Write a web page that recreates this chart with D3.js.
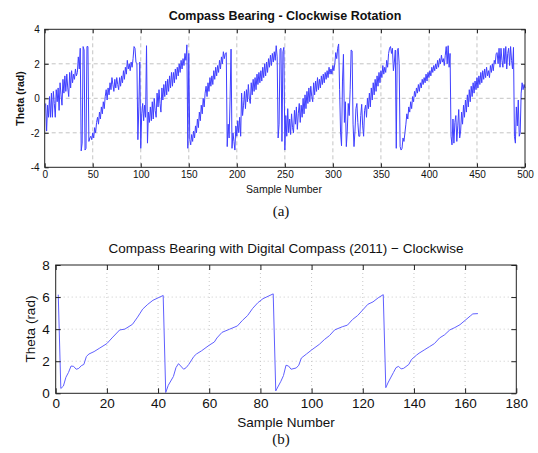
<!DOCTYPE html>
<html>
<head>
<meta charset="utf-8">
<script src="https://cdn.jsdelivr.net/npm/d3@7"></script>
<style>
  html, body { margin: 0; padding: 0; background: #fff; }
  svg { display: block; font-family: "Liberation Sans", Arial, Helvetica, sans-serif; }
</style>
</head>
<body>
<svg id="chart" width="538" height="453"></svg>
<script>
// ---- Panel (a): compass bearing, one value per sample (samples 1..500) ----
const thetaA = [
  // 1-37
  -0.3,-1.9,-0.4,-1.1,0.1,-1.1,0.3,-1.1,0.4,-0.3,
  -1.1,0.5,-0.2,0.6,-0.7,0.9,0.2,-0.4,1.1,0.3,
  1.3,0.4,1.4,0.6,0.1,1.5,0.6,1.6,0.9,1.4,
  1.1,1.7,1.3,1.5,2.4,1.7,2.9,
  // 38-47
  -3.05,-2.6,3.0,2.8,-3.0,-2.9,3.0,3.0,-2.5,-2.3,
  // 48-92
  -2.2,-2.4,-2.0,-2.3,-1.7,-2.0,-1.4,-1.1,-1.5,-0.8,
  -1.2,-0.5,-0.9,-0.2,-0.6,0.1,0.5,-0.1,0.6,0.2,
  0.9,0.5,1.2,0.8,0.4,1.1,0.6,1.2,0.8,0.5,
  1.2,0.7,1.3,0.9,1.6,1.1,1.8,1.4,2.2,1.7,
  2.0,1.6,2.1,1.8,2.3,
  // 93-112
  3.0,2.9,2.1,2.0,-2.4,-0.5,2.1,-2.9,-0.9,-0.3,
  -1.3,-0.4,-1.1,3.05,-2.6,-0.8,-1.4,-0.5,-1.3,-0.2,
  // 113-147
  -1.2,0.0,-0.7,-1.1,0.3,-0.5,0.5,-0.3,-0.8,0.6,
  -0.1,0.8,0.1,1.0,0.2,1.1,0.4,1.3,0.6,1.5,
  0.7,1.5,0.9,1.7,1.1,1.8,1.3,2.0,1.5,2.2,
  1.7,2.3,1.9,2.6,2.2,
  // 148-155
  3.1,-2.9,2.6,-2.4,-2.7,-2.1,-2.5,-1.9,
  // 156-188
  -2.3,-1.6,-2.0,-1.2,-1.7,-0.8,-1.3,-0.4,-0.9,0.0,
  -0.5,0.3,0.7,0.1,0.9,0.4,1.2,0.7,1.3,0.8,
  1.6,1.1,1.8,1.3,1.9,1.5,2.2,1.7,2.4,2.0,
  2.7,2.3,2.6,
  // 189-206
  2.65,-2.8,-1.5,-2.3,0.0,2.85,-2.9,-2.0,-2.5,-3.0,
  -1.6,-2.2,-1.3,-2.0,-1.1,-2.2,0.3,-1.0,
  // 207-240
  -0.4,0.4,-0.6,0.5,-0.2,0.8,0.0,-0.3,0.9,0.2,
  1.1,0.4,1.2,0.5,1.4,0.8,1.5,0.9,1.6,1.0,
  1.8,1.2,2.0,1.3,2.1,1.5,2.3,1.8,2.5,1.9,
  2.6,2.1,2.7,2.2,
  // 241-255
  3.05,2.4,-2.3,-1.5,2.85,2.9,-2.5,2.7,2.95,-3.0,
  -1.0,-2.2,-0.6,-2.0,-1.2,
  // 256-301
  -2.1,-0.9,-1.7,-2.0,-0.7,-1.5,-0.5,-1.8,-0.9,-0.3,
  -1.4,-0.4,-1.1,0.0,-0.9,0.2,-0.6,0.4,-0.3,0.6,
  -0.2,0.7,0.1,-0.2,0.9,0.2,1.0,0.4,1.2,0.5,
  1.1,0.6,1.3,0.8,1.4,0.9,1.5,1.1,1.6,1.2,
  1.8,1.4,1.7,1.4,1.9,1.6,
  // 302-334
  2.0,2.65,2.3,2.9,3.15,0.5,-2.0,-2.75,1.0,2.55,
  -1.4,-0.2,-2.8,-1.9,-0.3,-1.0,0.5,2.8,2.75,-1.5,
  -2.8,-1.9,-0.6,-0.3,-1.4,-2.2,-2.2,-1.0,-0.35,-1.6,
  -2.2,-0.7,-0.4,
  // 335-358
  -1.1,0.0,-0.6,0.3,-0.5,0.6,-0.1,0.9,0.2,1.1,
  0.4,1.3,0.7,1.5,0.9,1.6,1.2,1.9,1.4,1.8,
  1.5,2.2,1.8,2.6,
  // 359-376
  2.9,3.0,2.6,2.9,1.6,2.1,2.8,-2.9,2.75,2.9,
  2.0,-2.8,-3.0,-2.9,-2.3,-2.5,-2.0,-1.5,
  // 377-417
  -0.9,-1.2,-0.5,-0.8,-0.2,-0.6,0.1,-0.2,0.4,0.1,
  0.6,0.3,0.8,0.4,0.9,0.6,1.1,0.8,1.2,0.9,
  1.4,1.0,1.5,1.2,1.6,1.3,1.8,1.5,1.9,1.6,
  2.0,1.7,2.2,1.8,2.3,2.0,2.5,2.1,2.3,1.9,
  2.5,
  // 418-433
  3.0,2.0,3.05,1.8,2.6,-2.2,-2.7,-1.2,-2.6,-1.4,
  -1.0,-2.5,-1.6,-0.65,-2.3,-1.9,
  // 434-470
  -0.8,-1.5,-0.4,-1.1,-0.1,-0.8,0.2,-0.5,0.5,-0.2,
  0.7,0.1,0.9,0.3,1.0,0.5,1.2,0.6,1.3,0.8,
  1.5,0.9,1.6,1.1,1.7,1.2,1.8,1.3,1.6,1.2,
  1.9,1.5,2.0,1.6,2.2,2.0,2.6,
  // 471-488
  2.65,2.0,2.9,1.8,2.9,2.2,1.8,2.9,2.0,3.0,
  1.7,2.6,2.9,1.9,3.0,2.2,1.7,2.95,
  // 489-500
  -2.2,-2.6,-0.5,-1.6,-0.1,-2.2,-2.0,0.3,0.9,0.5,0.8,0.6
];
const sampleA = thetaA.map((_, i) => i + 1);
const xTicksA = [0, 50, 100, 150, 200, 250, 300, 350, 400, 450, 500];
const yTicksA = [-4, -2, 0, 2, 4];

// ---- Panel (b): digital compass bearing ----
const sampleB = [1,2,3,4,5,6,7,8,9,10,11,12,13,15,17,20,22,25,27,30,32,33,34,36,38,40,42,
  43,44,46,47,48,50,51,52,54,55,57,60,62,63,65,68,71,73,75,77,79,81,83,85,
  86,88,89,90,91,92,94,95,96,98,100,103,105,107,109,112,114,116,118,120,122,124,126,128,
  129,130,132,133,134,135,136,138,139,141,142,144,146,148,150,152,154,156,158,160,162,163,165];
const thetaB = [6.15,0.3,0.45,1.0,1.3,1.7,1.68,1.5,1.55,1.72,1.8,2.3,2.45,2.6,2.8,3.1,3.45,3.95,4.0,4.3,4.75,5.0,5.25,5.55,5.8,5.95,6.1,
  0.05,0.5,1.05,1.6,1.85,1.5,1.6,1.8,2.3,2.45,2.65,3.0,3.2,3.45,3.8,4.0,4.2,4.55,4.85,5.3,5.65,5.9,6.05,6.2,
  0.15,0.75,1.1,1.75,1.7,1.5,1.58,1.75,2.2,2.45,2.7,3.05,3.35,3.6,3.95,4.15,4.25,4.6,4.85,5.2,5.55,5.7,5.95,6.15,
  0.35,0.7,1.3,1.6,1.68,1.52,1.56,1.8,2.1,2.38,2.5,2.7,2.9,3.1,3.45,3.65,3.95,4.1,4.28,4.55,4.82,4.95,4.97];
const xTicksB = [0, 20, 40, 60, 80, 100, 120, 140, 160, 180];
const yTicksB = [0, 2, 4, 6, 8];

const svg = d3.select("#chart");

function drawPanel(o) {
  const x = d3.scaleLinear().domain(o.xDomain).range([o.left, o.right]);
  const y = d3.scaleLinear().domain(o.yDomain).range([o.bottom, o.top]);
  const g = svg.append("g");

  // grid lines at the interior ticks
  const gxv = o.xTicks.filter(v => v > o.xDomain[0] && v < o.xDomain[1]);
  const gyv = o.yTicks.filter(v => v > o.yDomain[0] && v < o.yDomain[1]);
  g.append("g").selectAll("line").data(gxv).join("line")
    .attr("x1", d => x(d)).attr("x2", d => x(d))
    .attr("y1", o.top).attr("y2", o.bottom)
    .attr("stroke", o.gridColor).attr("stroke-width", 1)
    .attr("stroke-dasharray", o.gridDash);
  g.append("g").selectAll("line").data(gyv).join("line")
    .attr("y1", d => y(d)).attr("y2", d => y(d))
    .attr("x1", o.left).attr("x2", o.right)
    .attr("stroke", o.gridColor).attr("stroke-width", 1)
    .attr("stroke-dasharray", o.gridDash);

  // data line
  const pts = o.xs.map((v, i) => [v, o.ys[i]]);
  g.append("path").datum(pts)
    .attr("d", d3.line().x(d => x(d[0])).y(d => y(d[1])))
    .attr("fill", "none")
    .attr("stroke", o.lineColor)
    .attr("stroke-width", o.lineWidth)
    .attr("stroke-linejoin", "round");

  const fmt = d => String(d);
  const styleAxis = sel => {
    sel.select(".domain").remove();
    sel.selectAll(".tick line").attr("stroke", "#222");
    sel.selectAll(".tick text")
      .attr("fill", "#111")
      .style("font-size", o.tickFont + "px");
  };
  g.append("g").attr("transform", `translate(0,${o.bottom})`)
    .call(d3.axisBottom(x).tickValues(o.xTicks).tickFormat(fmt)
      .tickSizeInner(-o.tick).tickSizeOuter(0).tickPadding(o.padX))
    .call(styleAxis);
  g.append("g").attr("transform", `translate(0,${o.top})`)
    .call(d3.axisTop(x).tickValues(o.xTicks).tickFormat("")
      .tickSizeInner(-o.tick).tickSizeOuter(0))
    .call(styleAxis);
  g.append("g").attr("transform", `translate(${o.left},0)`)
    .call(d3.axisLeft(y).tickValues(o.yTicks).tickFormat(fmt)
      .tickSizeInner(-o.tick).tickSizeOuter(0).tickPadding(o.padY))
    .call(styleAxis);
  g.append("g").attr("transform", `translate(${o.right},0)`)
    .call(d3.axisRight(y).tickValues(o.yTicks).tickFormat("")
      .tickSizeInner(-o.tick).tickSizeOuter(0))
    .call(styleAxis);

  // frame
  g.append("rect")
    .attr("x", o.left).attr("y", o.top)
    .attr("width", o.right - o.left).attr("height", o.bottom - o.top)
    .attr("fill", "none").attr("stroke", "#222").attr("stroke-width", 1);

  // titles and axis labels
  g.append("text")
    .attr("x", o.titleX).attr("y", o.titleY)
    .attr("text-anchor", "middle")
    .attr("fill", "#111")
    .style("font-size", o.titleFont + "px")
    .style("font-weight", o.titleWeight)
    .text(o.title);
  g.append("text")
    .attr("x", o.xLabelX).attr("y", o.xLabelY)
    .attr("text-anchor", "middle")
    .attr("fill", "#111")
    .style("font-size", o.labelFont + "px")
    .text("Sample Number");
  g.append("text")
    .attr("transform", `translate(${o.yLabelX},${o.yLabelY}) rotate(-90)`)
    .attr("text-anchor", "middle")
    .attr("fill", "#111")
    .style("font-size", o.labelFont + "px")
    .style("font-weight", o.yLabelWeight)
    .text("Theta (rad)");
  g.append("text")
    .attr("x", o.capX).attr("y", o.capY)
    .attr("text-anchor", "middle")
    .attr("fill", "#111")
    .style("font-family", "'Liberation Serif', 'Times New Roman', serif")
    .style("font-size", "15px")
    .text(o.caption);
}

drawPanel({
  left: 44.7, right: 525, top: 29.3, bottom: 167.3,
  xDomain: [0, 500], yDomain: [-4, 4],
  xTicks: xTicksA, yTicks: yTicksA,
  xs: sampleA, ys: thetaA,
  lineColor: "#3f3fff", lineWidth: 1,
  gridColor: "#c4c4c4", gridDash: "4,3",
  tick: 4, padX: 4, padY: 5,
  tickFont: 10, labelFont: 10.5,
  title: "Compass Bearing - Clockwise Rotation", titleFont: 12.5, titleWeight: "bold",
  titleX: 285, titleY: 20,
  xLabelX: 284, xLabelY: 193,
  yLabelX: 24, yLabelY: 98.5, yLabelWeight: "bold",
  caption: "(a)", capX: 281, capY: 216
});

drawPanel({
  left: 55.7, right: 516.3, top: 265, bottom: 393.3,
  xDomain: [0, 180], yDomain: [0, 8],
  xTicks: xTicksB, yTicks: yTicksB,
  xs: sampleB, ys: thetaB,
  lineColor: "#6060ff", lineWidth: 1,
  gridColor: "#c8c8c8", gridDash: "1,3",
  tick: 5, padX: 5, padY: 6,
  tickFont: 13.5, labelFont: 13.5,
  title: "Compass Bearing with Digital Compass (2011) \u2212 Clockwise", titleFont: 13.5, titleWeight: "normal",
  titleX: 286, titleY: 253,
  xLabelX: 286, xLabelY: 426.5,
  yLabelX: 35, yLabelY: 329, yLabelWeight: "normal",
  caption: "(b)", capX: 281, capY: 444
});
</script>
</body>
</html>
